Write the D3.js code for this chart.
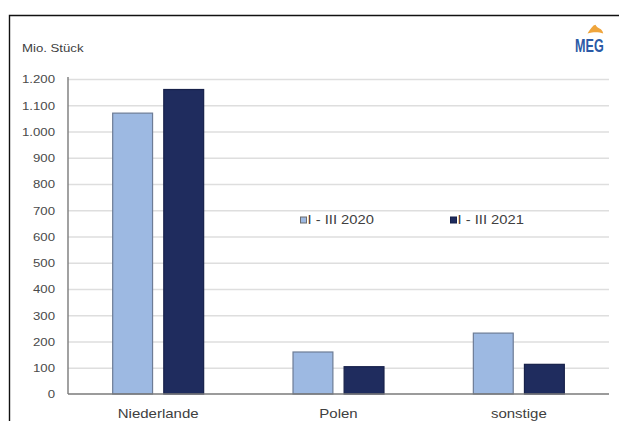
<!DOCTYPE html>
<html>
<head>
<meta charset="utf-8">
<script src="https://cdn.jsdelivr.net/npm/d3@7"></script>
<style>
  html, body { margin: 0; padding: 0; background: #fff; }
  svg { display: block; }
  text { font-family: "Liberation Sans", Arial, sans-serif; }
</style>
</head>
<body>
<svg id="chart" width="619" height="421"></svg>
<script>
// Egg imports by origin, million pieces, January–March
const categories = ["Niederlande", "Polen", "sonstige"];
const seriesNames = ["I - III 2020", "I - III 2021"];
const values2020 = [1070, 160, 232];
const values2021 = [1160, 104, 113];
const yTickValues = [0, 100, 200, 300, 400, 500, 600, 700, 800, 900, 1000, 1100, 1200];
const unitLabel = "Mio. Stück";
const logoText = "MEG";

const colors = { fill: ["#9db9e2", "#1f2c5e"], stroke: ["#6d7c96", "#17214a"] };
const SX = 1.2; // horizontal stretch used for all labels

const svg = d3.select("#chart");
const W = 619, H = 421;
const plot = { left: 68, right: 609, top: 79, bottom: 394 };

const de = d3.formatLocale({ decimal: ",", thousands: ".", grouping: [3], currency: ["", " €"] });
const fmt = de.format(",d");

// outer frame (top and left rules)
svg.append("path")
  .attr("d", `M9.5,${H} V15.5 H${W}`)
  .attr("fill", "none").attr("stroke", "#111").attr("stroke-width", 1.4);

const y = d3.scaleLinear().domain([0, 1200]).range([plot.bottom, plot.top]);
const x0 = d3.scaleBand().domain(categories).range([plot.left, plot.right])
  .paddingInner(0.49).paddingOuter(0.245);
const x1 = d3.scaleBand().domain(seriesNames).range([0, x0.bandwidth()]).paddingInner(0.2);

// horizontal gridlines
const grid = svg.append("g").attr("transform", `translate(${plot.left},0)`)
  .call(d3.axisRight(y).tickValues(yTickValues.slice(1)).tickSize(plot.right - plot.left).tickFormat(""));
grid.select(".domain").remove();
grid.selectAll("line").attr("stroke", "#dedede").attr("stroke-width", 1.4);

// bars
const rows = categories.map((c, i) => ({ cat: c, vals: [values2020[i], values2021[i]] }));
const groups = svg.append("g").selectAll("g").data(rows).join("g")
  .attr("transform", d => `translate(${x0(d.cat)},0)`);
groups.selectAll("rect")
  .data(d => d.vals.map((v, k) => ({ s: seriesNames[k], v, k })))
  .join("rect")
  .attr("x", d => x1(d.s) + 0.5)
  .attr("y", d => y(d.v))
  .attr("width", x1.bandwidth() - 1)
  .attr("height", d => y(0) - y(d.v))
  .attr("fill", d => colors.fill[d.k])
  .attr("stroke", d => colors.stroke[d.k])
  .attr("stroke-width", 1.2);

// y axis
const yAxis = svg.append("g").attr("transform", `translate(${plot.left},0)`)
  .call(d3.axisLeft(y).tickValues(yTickValues).tickSize(0).tickFormat(fmt));
yAxis.select(".domain").attr("stroke", "#7a7a7a").attr("stroke-width", 1.4)
  .attr("d", `M0,${plot.top - 2}V${plot.bottom}`);
yAxis.selectAll(".tick text")
  .attr("x", 0).attr("dy", "0.36em")
  .attr("transform", `translate(-13,0) scale(${SX},1)`)
  .attr("font-size", 11).attr("fill", "#4a4a4a")
  .attr("font-family", "'Liberation Sans', Arial, sans-serif");

// x axis
const xAxis = svg.append("g").attr("transform", `translate(0,${plot.bottom})`)
  .call(d3.axisBottom(x0).tickSize(0));
xAxis.select(".domain").attr("stroke", "#7a7a7a").attr("stroke-width", 1.4)
  .attr("d", `M${plot.left},0H${plot.right}`);
xAxis.selectAll(".tick text")
  .attr("y", 0).attr("dy", 0)
  .attr("transform", `translate(0,24) scale(${SX},1)`)
  .attr("font-size", 12.5).attr("fill", "#404040")
  .attr("font-family", "'Liberation Sans', Arial, sans-serif");

// unit label
svg.append("text")
  .attr("transform", `translate(22,52) scale(${SX},1)`)
  .attr("font-size", 11).attr("fill", "#404040")
  .text(unitLabel);

// legend
const legendX = [300, 450];
const legend = svg.append("g").selectAll("g").data(seriesNames).join("g")
  .attr("transform", (d, i) => `translate(${legendX[i]},220)`);
legend.append("rect")
  .attr("x", 0.5).attr("y", -3).attr("width", 6).attr("height", 6)
  .attr("fill", (d, i) => colors.fill[i])
  .attr("stroke", (d, i) => i === 0 ? "#6d6d6d" : colors.stroke[i]).attr("stroke-width", 1);
legend.append("text")
  .attr("transform", `translate(7.5,4.3) scale(${SX},1)`)
  .attr("font-size", 12.3).attr("fill", "#404040")
  .text(d => d);

// logo: orange roof mark above the lettering
const logo = svg.append("g");
logo.append("path")
  .attr("d", "M587.5,33.5 C589,31 591,28 593.5,25.5 L595.5,24.8 C596.5,26.5 597.5,27.8 599.5,28.6 C601.5,29.6 602.8,31.2 603.2,33.5 C600,32.2 596,31.8 592,32.4 C590.3,32.7 588.8,33.1 587.5,33.5 Z")
  .attr("fill", "#efa53c");
logo.append("text")
  .attr("transform", "translate(575,51.5) scale(0.72,1)")
  .attr("font-size", 17.5).attr("font-weight", "bold").attr("fill", "#2b5aa6")
  .text(logoText);
</script>
</body>
</html>
